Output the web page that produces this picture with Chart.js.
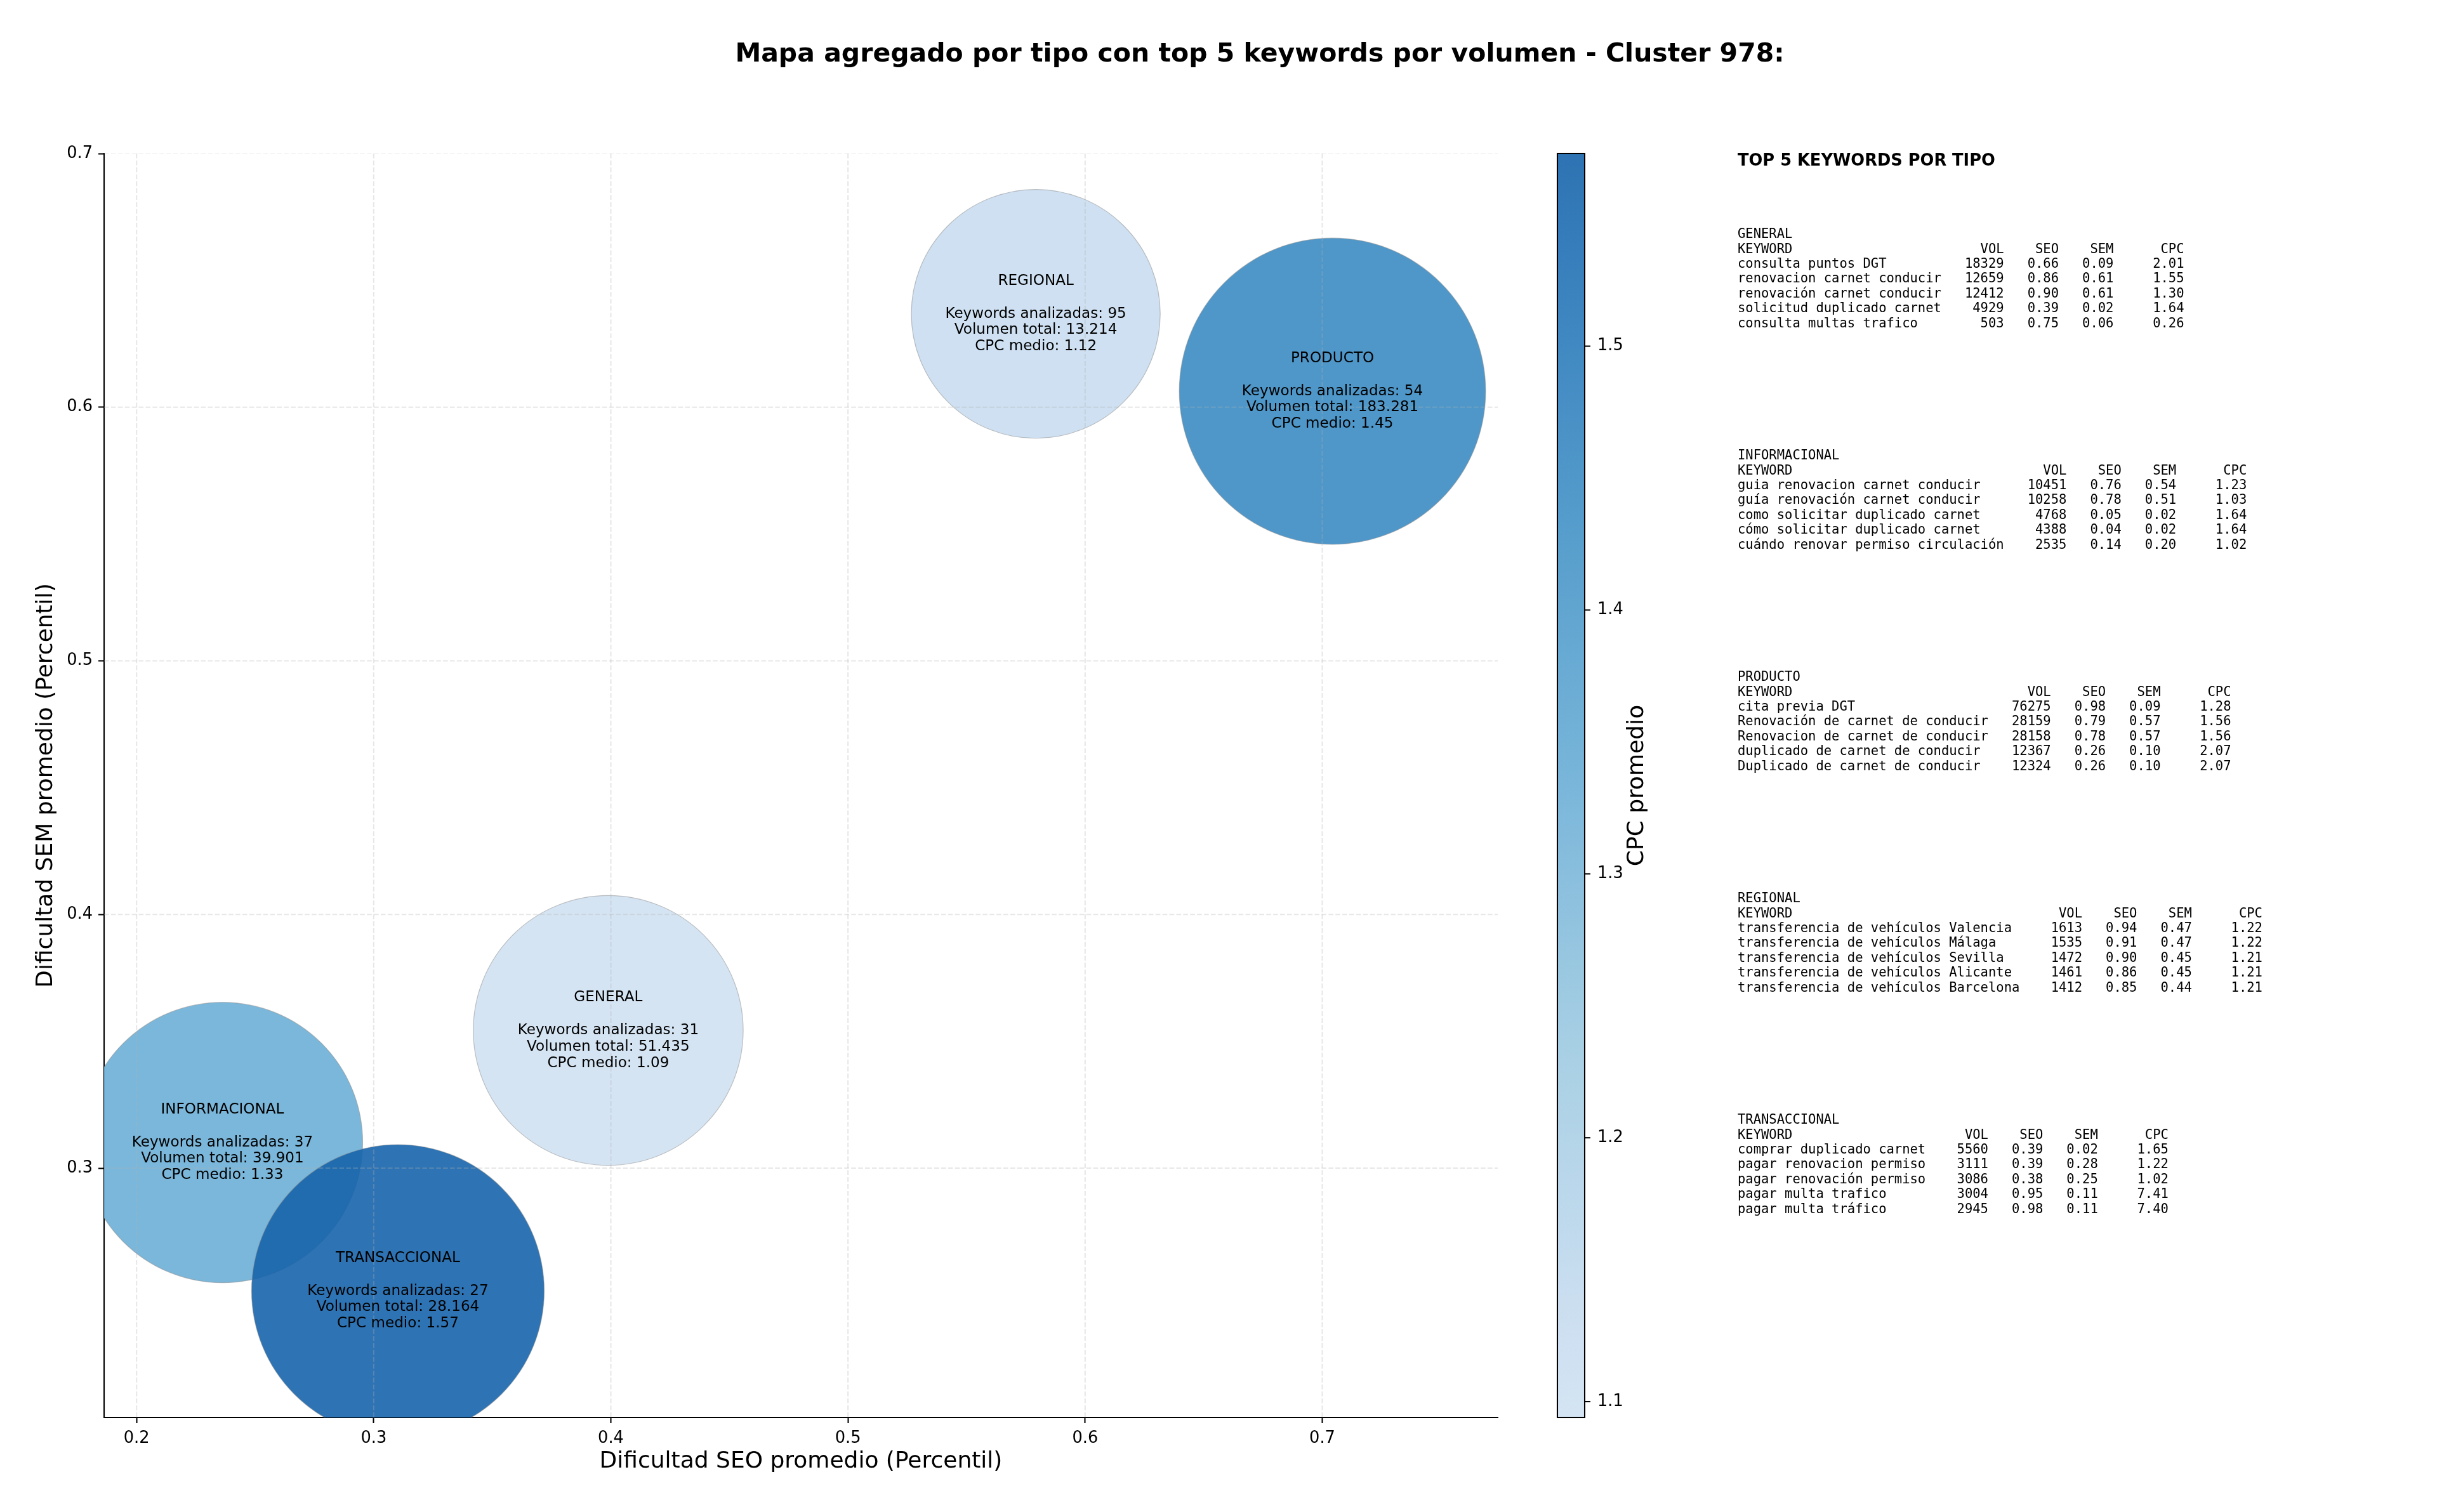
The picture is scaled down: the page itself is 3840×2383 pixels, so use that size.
<!DOCTYPE html>
<html>
<head>
<meta charset="utf-8">
<script src="https://cdn.jsdelivr.net/npm/chart.js@4.4.1/dist/chart.umd.min.js"></script>
<style>
  html, body { margin: 0; padding: 0; background: #fff; }
  #wrap { position: relative; width: 3840px; height: 2383px; overflow: hidden; }
  #chart { position: absolute; left: 0; top: 0; }
  #title { position: absolute; left: 0; width: 3970px; top: 58px; text-align: center;
           font: bold 41px/50px 'DejaVu Sans'; color: #000; white-space: nowrap; }
  #sideTitle { position: absolute; left: 2738px; top: 237px; font: bold 25.7px/30px 'DejaVu Sans'; color: #000; white-space: nowrap; }
  pre.block { position: absolute; left: 2738px; margin: 0; font: 20.5px/23.4px 'DejaVu Sans Mono'; color: #000; }
</style>
</head>
<body>
<div id="wrap">
  <canvas id="chart" width="3840" height="2383"></canvas>
  <div id="title">Mapa agregado por tipo con top 5 keywords por volumen - Cluster 978:</div>
  <div id="sideTitle">TOP 5 KEYWORDS POR TIPO</div>
  <div id="side"></div>
</div>
<script>
// Datos agregados por tipo
const categories = ['GENERAL', 'INFORMACIONAL', 'PRODUCTO', 'REGIONAL', 'TRANSACCIONAL'];
const seoAvg = [0.3989, 0.2362, 0.7043, 0.5792, 0.3102];
const semAvg = [0.3543, 0.3101, 0.6063, 0.6368, 0.2516];
const cpcAvg = [1.094, 1.33, 1.45, 1.12, 1.573];
const keywordCount = [31, 37, 54, 95, 27];
const totalVolume = [51435, 39901, 183281, 13214, 28164];
const markerSize = [27400, 29600, 35300, 23300, 32200]; // area del marcador (pt^2)

const xTicks = [0.2, 0.3, 0.4, 0.5, 0.6, 0.7];
const yTicks = [0.3, 0.4, 0.5, 0.6, 0.7];
const cbarTicks = [1.1, 1.2, 1.3, 1.4, 1.5];

// Top 5 keywords: keyword, vol, seo, sem, cpc
const topGeneral = [
    ['consulta puntos DGT', 18329, 0.66, 0.09, 2.01],
    ['renovacion carnet conducir', 12659, 0.86, 0.61, 1.55],
    ['renovación carnet conducir', 12412, 0.90, 0.61, 1.30],
    ['solicitud duplicado carnet', 4929, 0.39, 0.02, 1.64],
    ['consulta multas trafico', 503, 0.75, 0.06, 0.26]
];
const topInformacional = [
    ['guia renovacion carnet conducir', 10451, 0.76, 0.54, 1.23],
    ['guía renovación carnet conducir', 10258, 0.78, 0.51, 1.03],
    ['como solicitar duplicado carnet', 4768, 0.05, 0.02, 1.64],
    ['cómo solicitar duplicado carnet', 4388, 0.04, 0.02, 1.64],
    ['cuándo renovar permiso circulación', 2535, 0.14, 0.20, 1.02]
];
const topProducto = [
    ['cita previa DGT', 76275, 0.98, 0.09, 1.28],
    ['Renovación de carnet de conducir', 28159, 0.79, 0.57, 1.56],
    ['Renovacion de carnet de conducir', 28158, 0.78, 0.57, 1.56],
    ['duplicado de carnet de conducir', 12367, 0.26, 0.10, 2.07],
    ['Duplicado de carnet de conducir', 12324, 0.26, 0.10, 2.07]
];
const topRegional = [
    ['transferencia de vehículos Valencia', 1613, 0.94, 0.47, 1.22],
    ['transferencia de vehículos Málaga', 1535, 0.91, 0.47, 1.22],
    ['transferencia de vehículos Sevilla', 1472, 0.90, 0.45, 1.21],
    ['transferencia de vehículos Alicante', 1461, 0.86, 0.45, 1.21],
    ['transferencia de vehículos Barcelona', 1412, 0.85, 0.44, 1.21]
];
const topTransaccional = [
    ['comprar duplicado carnet', 5560, 0.39, 0.02, 1.65],
    ['pagar renovacion permiso', 3111, 0.39, 0.28, 1.22],
    ['pagar renovación permiso', 3086, 0.38, 0.25, 1.02],
    ['pagar multa trafico', 3004, 0.95, 0.11, 7.41],
    ['pagar multa tráfico', 2945, 0.98, 0.11, 7.40]
];

// Blues colormap, recortado
const bluesStops = [
    [247, 251, 255], [222, 235, 247], [198, 219, 239], [158, 202, 225], [107, 174, 214],
    [66, 146, 198], [33, 113, 181], [8, 81, 156], [8, 48, 107]
];
function blues(p) {
    const f = Math.min(Math.max(p, 0), 1) * (bluesStops.length - 1);
    const i = Math.min(Math.floor(f), bluesStops.length - 2);
    const t = f - i;
    return bluesStops[i].map((c, k) => Math.round(c + (bluesStops[i + 1][k] - c) * t));
}
const cpcMin = Math.min(...cpcAvg);
const cpcMax = Math.max(...cpcAvg);
function cmap(t, alpha) {
    const c = blues(0.2 + 0.6 * t);
    return `rgba(${c[0]},${c[1]},${c[2]},${alpha})`;
}
const norm = v => (v - cpcMin) / (cpcMax - cpcMin);
const sizeToRadius = s => Math.sqrt(s) / 2 * 185 / 72;
const fmtVol = v => String(v).replace(/\B(?=(\d{3})+(?!\d))/g, '.');

// Panel lateral
function tableText(name, rows) {
    const w = Math.max(...rows.map(r => r[0].length));
    const line = (k, v, s, m, c) => k.padEnd(w) + String(v).padStart(8) + String(s).padStart(7) +
        String(m).padStart(7) + String(c).padStart(9);
    return [name, line('KEYWORD', 'VOL', 'SEO', 'SEM', 'CPC'),
        ...rows.map(r => line(r[0], r[1], r[2].toFixed(2), r[3].toFixed(2), r[4].toFixed(2)))].join('\n');
}
const side = document.getElementById('side');
[topGeneral, topInformacional, topProducto, topRegional, topTransaccional].forEach((rows, i) => {
    const pre = document.createElement('pre');
    pre.className = 'block';
    pre.style.top = (357.2 + i * 349) + 'px';
    pre.textContent = tableText(categories[i], rows);
    side.appendChild(pre);
});

const overlay = {
    id: 'overlay',
    afterDatasetsDraw(chart) {
        const {ctx, chartArea: a, scales: {x, y}} = chart;
        // grid por encima de las burbujas
        ctx.save();
        ctx.beginPath();
        ctx.rect(a.left, a.top, a.right - a.left, a.bottom - a.top);
        ctx.clip();
        ctx.strokeStyle = 'rgba(176,176,176,0.3)';
        ctx.lineWidth = 2.06;
        ctx.setLineDash([7.6, 3.3]);
        x.ticks.forEach(t => {
            const px = x.getPixelForValue(t.value);
            ctx.beginPath(); ctx.moveTo(px, a.top); ctx.lineTo(px, a.bottom); ctx.stroke();
        });
        y.ticks.forEach(t => {
            const py = y.getPixelForValue(t.value);
            ctx.beginPath(); ctx.moveTo(a.left, py); ctx.lineTo(a.right, py); ctx.stroke();
        });
        ctx.restore();

        // textos de las burbujas
        const meta = chart.getDatasetMeta(0);
        ctx.save();
        ctx.fillStyle = '#000';
        ctx.font = '23.1px "DejaVu Sans"';
        ctx.textAlign = 'center';
        ctx.textBaseline = 'middle';
        meta.data.forEach((el, i) => {
            const lines = [categories[i], '', 'Keywords analizadas: ' + keywordCount[i],
                'Volumen total: ' + fmtVol(totalVolume[i]), 'CPC medio: ' + cpcAvg[i].toFixed(2)];
            lines.forEach((ln, k) => ctx.fillText(ln, el.x, el.y + (k - 2) * 25.8));
        });
        ctx.restore();
    },
    afterDraw(chart) {
        const {ctx} = chart;
        const cb = chart.scales.cbar;
        const x0 = cb.left + 94, x1 = cb.left + 137;
        const top = cb.top, bot = cb.bottom;
        ctx.save();
        const grad = ctx.createLinearGradient(0, bot, 0, top);
        for (let i = 0; i <= 50; i++) grad.addColorStop(i / 50, cmap(i / 50, 0.9));
        ctx.fillStyle = grad;
        ctx.fillRect(x0, top, x1 - x0, bot - top);
        ctx.strokeStyle = '#000';
        ctx.lineWidth = 2.06;
        ctx.strokeRect(x0, top, x1 - x0, bot - top);
        cb.ticks.forEach(t => {
            const py = cb.getPixelForValue(t.value);
            ctx.beginPath(); ctx.moveTo(x1, py); ctx.lineTo(x1 + 9, py); ctx.stroke();
        });
        ctx.translate(cb.left + 220, (top + bot) / 2);
        ctx.rotate(-Math.PI / 2);
        ctx.fillStyle = '#000';
        ctx.font = '36px "DejaVu Sans"';
        ctx.textAlign = 'center';
        ctx.textBaseline = 'middle';
        ctx.fillText('CPC promedio', 0, 0);
        ctx.restore();
    }
};

Chart.defaults.font.family = '"DejaVu Sans"';
Chart.defaults.color = '#000';

const tickGrid = {drawOnChartArea: false, drawTicks: true, tickLength: 9, tickColor: '#000', tickWidth: 2.06};

new Chart(document.getElementById('chart'), {
    type: 'bubble',
    data: {
        datasets: [{
            data: categories.map((c, i) => ({x: seoAvg[i], y: semAvg[i], r: sizeToRadius(markerSize[i])})),
            backgroundColor: cpcAvg.map(v => cmap(norm(v), 0.9)),
            borderColor: 'rgba(140,140,140,0.5)',
            borderWidth: 1.2,
            clip: 0
        }]
    },
    options: {
        responsive: false,
        animation: false,
        events: [],
        layout: {autoPadding: false, padding: {left: 0, right: 1280, top: 242, bottom: 49}},
        plugins: {
            legend: {display: false},
            tooltip: {enabled: false},
            title: {display: false}
        },
        scales: {
            x: {
                type: 'linear',
                min: 0.1863,
                max: 0.774,
                afterBuildTicks: s => { s.ticks = xTicks.map(v => ({value: v})); },
                afterFit: s => { s.height = 100; },
                grid: tickGrid,
                border: {color: '#000', width: 2.06},
                ticks: {padding: 9, font: {size: 25.7}, color: '#000', maxRotation: 0, autoSkip: false,
                    callback: v => v.toFixed(1)},
                title: {display: true, text: 'Dificultad SEO promedio (Percentil)', font: {size: 36},
                    color: '#000', padding: {top: 0, bottom: 8.5}}
            },
            y: {
                type: 'linear',
                position: 'left',
                min: 0.2017,
                max: 0.7,
                afterBuildTicks: s => { s.ticks = yTicks.map(v => ({value: v})); },
                afterFit: s => { s.width = 164; },
                grid: tickGrid,
                border: {color: '#000', width: 2.06},
                ticks: {padding: 9, font: {size: 25.7}, color: '#000', autoSkip: false,
                    callback: v => v.toFixed(1)},
                title: {display: true, text: 'Dificultad SEM promedio (Percentil)', font: {size: 36},
                    color: '#000', padding: {top: 51.4, bottom: 0}}
            },
            cbar: {
                type: 'linear',
                position: 'right',
                min: cpcMin,
                max: cpcMax,
                afterBuildTicks: s => { s.ticks = cbarTicks.map(v => ({value: v})); },
                afterFit: s => { s.width = 200; s.paddingTop = 0; s.paddingBottom = 0; },
                grid: {display: false, drawTicks: false, drawOnChartArea: false},
                border: {display: false},
                ticks: {padding: 157, font: {size: 25.7}, color: '#000', autoSkip: false,
                    callback: v => v.toFixed(1)}
            }
        }
    },
    plugins: [overlay]
});
</script>
</body>
</html>
